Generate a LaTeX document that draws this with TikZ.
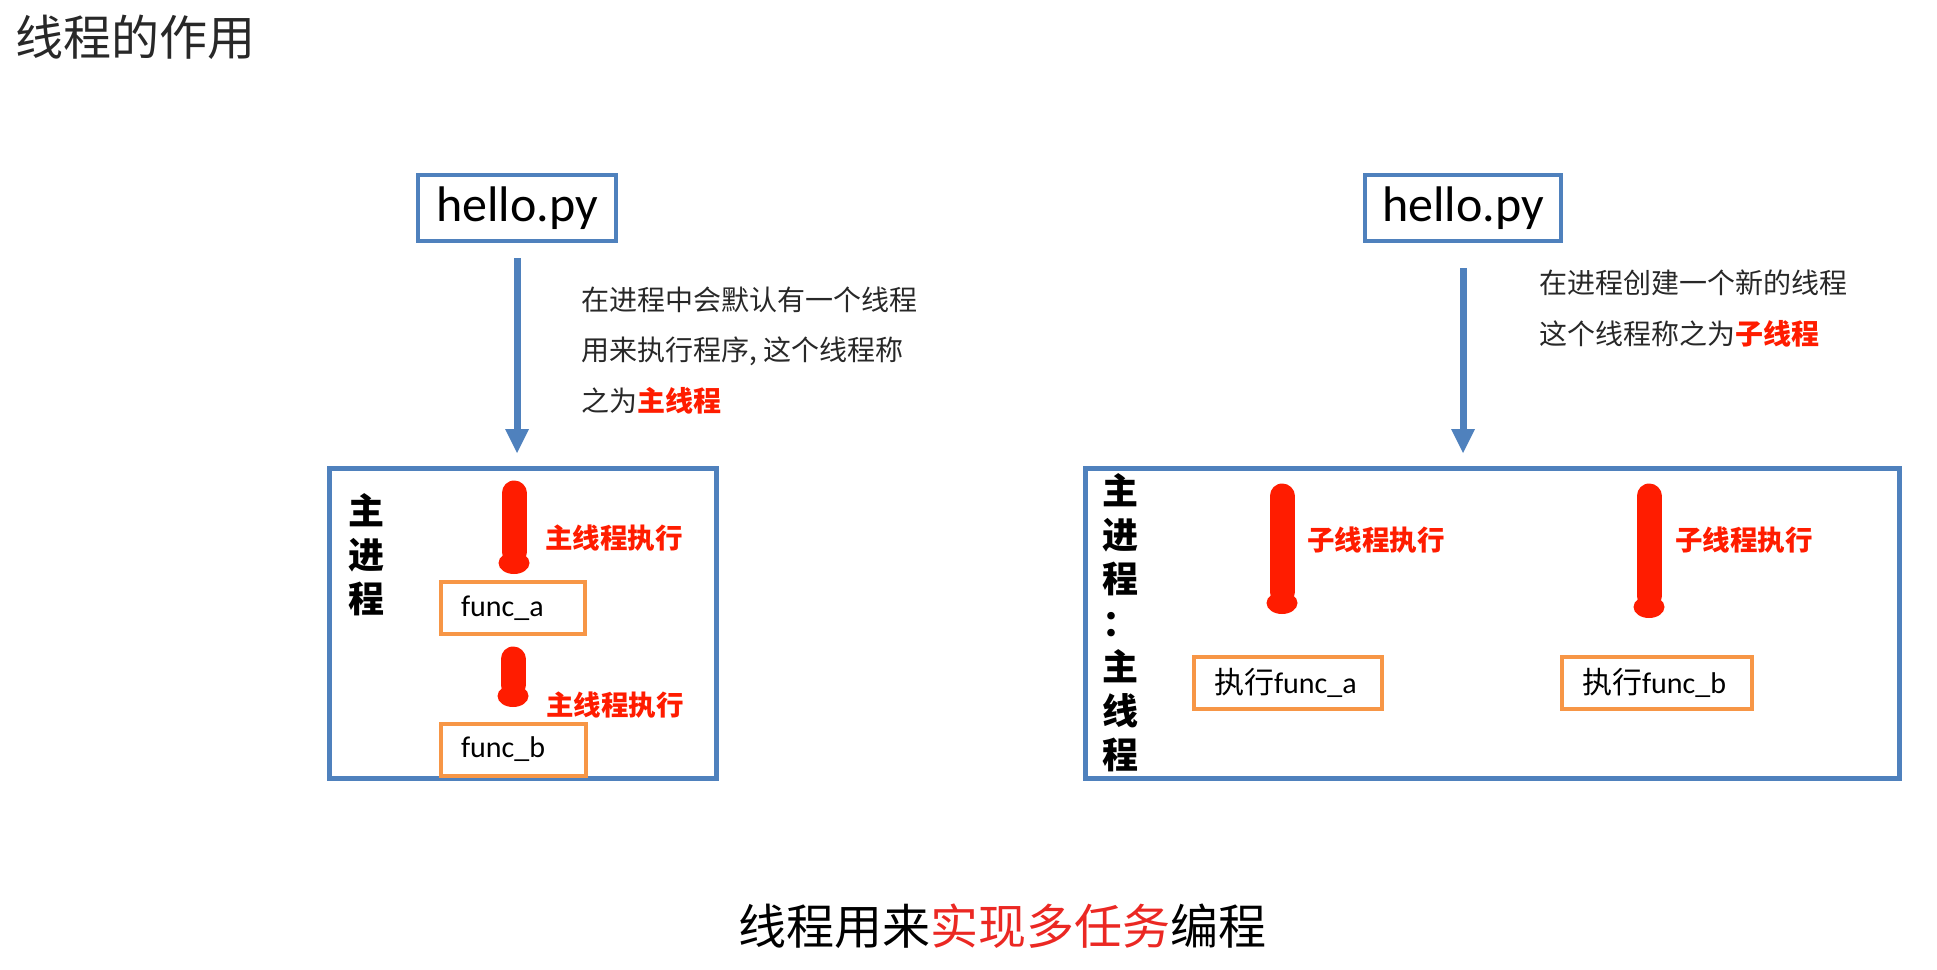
\documentclass[tikz,border=0pt]{standalone}
\usepackage{fontspec}
\setmainfont{Carlito}
\newfontfamily\cjk{Noto Sans CJK SC}
\usetikzlibrary{arrows.meta}

\definecolor{boxblue}{RGB}{79,129,189}
\definecolor{boxorange}{RGB}{247,150,70}
\definecolor{threadred}{RGB}{255,28,0}
\definecolor{summaryred}{RGB}{235,40,35}
\definecolor{titlegray}{RGB}{40,40,40}

\tikzset{
	filebox/.style={draw=boxblue, line width=4pt, minimum width=198pt, minimum height=66pt, inner sep=0pt, font=\fontsize{50}{60}\selectfont},
	procbox/.style={draw=boxblue, line width=5pt, inner sep=0pt, minimum height=310pt},
	funcbox/.style={draw=boxorange, line width=4pt, minimum height=52pt, inner xsep=20pt, align=left, font=\fontsize{30}{36}\selectfont},
	flowarrow/.style={draw=boxblue, line width=7pt, -{Triangle[width=24pt, length=24pt, line width=0pt]}},
	redbar/.style={draw=threadred, line width=25pt, line cap=round, -{Circle[length=22pt, width=31pt, line width=0pt]}},
	redlabel/.style={text=threadred, anchor=west, inner sep=0pt, font=\cjk\bfseries\fontsize{27.5}{32}\selectfont},
	note/.style={anchor=west, align=left, inner sep=0pt, text=titlegray, font=\cjk\fontsize{28}{50.5}\selectfont},
	vlabel/.style={align=center, inner sep=0pt, font=\cjk\bfseries\fontsize{36}{44}\selectfont},
}

\begin{document}
\begin{tikzpicture}[x=1pt, y=-1pt]
	\useasboundingbox (0,0) rectangle (1937,969);

	\node[anchor=west, inner sep=0pt, text=titlegray, font=\cjk\fontsize{48}{56}\selectfont] (title) at (15,37) {线程的作用};

	\node[filebox] (hello1) at (517,208) {hello.py};
	\node[filebox, minimum width=196pt] (hello2) at (1463,208) {hello.py};

	\node[procbox, minimum width=387pt] (main1) at (523,623.5) {};
	\node[procbox, minimum width=814pt] (main2) at (1492.5,623.5) {};

	\draw[flowarrow, shorten <=15pt, shorten >=13pt] (hello1.south) -- (hello1.south |- main1.north);
	\draw[flowarrow, shorten <=25pt, shorten >=13pt] (hello2.south) -- (hello2.south |- main2.north);

	\node[note] (note1) at (581,350.5) {在进程中会默认有一个线程\\用来执行程序, 这个线程称\\之为{\color{threadred}\bfseries 主线程}};
	\node[note] (note2) at (1539,308.5) {在进程创建一个新的线程\\这个线程称之为{\color{threadred}\bfseries 子线程}};

	\node[vlabel] (proc1) at (366,555) {主\\进\\程};
	\node[vlabel] (proc2) at (1120,622.5) {主\\进\\程\\：\\主\\线\\程};

	\node[funcbox, text width=104pt] (funca) at (513,608) {func\_a};
	\node[funcbox, text width=105pt] (funcb) at (513.5,749.5) {func\_b};
	\node[funcbox, text width=148pt] (runa) at (1288,682.5) {{\cjk 执行}func\_a};
	\node[funcbox, text width=150pt] (runb) at (1657,682.5) {{\cjk 执行}func\_b};

	\coordinate (bar1top) at (514,493);
	\coordinate (bar1end) at (514,574);
	\coordinate (bar2top) at (513,659);
	\coordinate (bar2end) at (513,707);
	\coordinate (bar3top) at (1282,496);
	\coordinate (bar3end) at (1282,614);
	\coordinate (bar4top) at (1649,496);
	\coordinate (bar4end) at (1649,618);
	\draw[redbar] (bar1top) -- (bar1end);
	\draw[redbar] (bar2top) -- (bar2end);
	\draw[redbar] (bar3top) -- (bar3end);
	\draw[redbar] (bar4top) -- (bar4end);

	\node[redlabel] (exec1) at (545,538) {主线程执行};
	\node[redlabel] (exec2) at (546,705) {主线程执行};
	\node[redlabel] (exec3) at (1307,540) {子线程执行};
	\node[redlabel] (exec4) at (1675,540) {子线程执行};

	\node[inner sep=0pt, font=\cjk\fontsize{48}{56}\selectfont] (summary) at (1002.5,926) {线程用来{\color{summaryred}实现多任务}编程};
\end{tikzpicture}
\end{document}
